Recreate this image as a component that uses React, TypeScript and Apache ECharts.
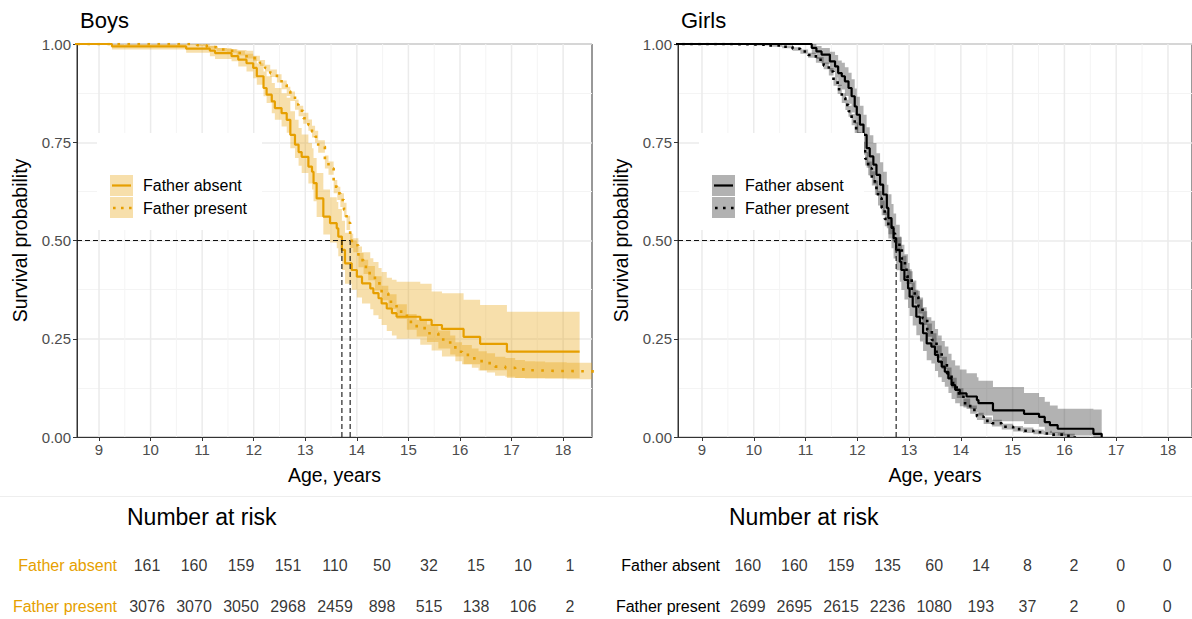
import React, { useEffect, useRef } from "react";
import * as echarts from "echarts";

// ---------- data ----------
const panelTitles = ["Boys", "Girls"];
const rowLabels = ["Father absent", "Father present"];
const ageTicks = [9, 10, 11, 12, 13, 14, 15, 16, 17, 18];
const ageMinor = [9.5, 10.5, 11.5, 12.5, 13.5, 14.5, 15.5, 16.5, 17.5];
const riskAges = [9, 10, 11, 12, 13, 14, 15, 16, 17, 18];

const boysAbsentRisk = [161, 160, 159, 151, 110, 50, 32, 15, 10, 1];
const boysPresentRisk = [3076, 3070, 3050, 2968, 2459, 898, 515, 138, 106, 2];
const girlsAbsentRisk = [160, 160, 159, 135, 60, 14, 8, 2, 0, 0];
const girlsPresentRisk = [2699, 2695, 2615, 2236, 1080, 193, 37, 2, 0, 0];

const boysMedians = [13.71, 13.87];
const girlsMedians = [12.75];

const boysAbsentTime = [8, 9.25, 10.69, 11.15, 11.25, 11.57, 11.7, 11.86, 11.99, 12.06, 12.19, 12.25, 12.35, 12.41, 12.54, 12.64, 12.71, 12.8, 12.87, 12.93, 13.06, 13.13, 13.16, 13.22, 13.35, 13.48, 13.61, 13.64, 13.71, 13.77, 13.9, 14.0, 14.1, 14.26, 14.32, 14.42, 14.48, 14.58, 14.68, 14.77, 15.23, 15.45, 15.65, 16.07, 16.39, 16.91, 18.32];
const boysAbsentSurv = [1, 0.994, 0.988, 0.983, 0.977, 0.969, 0.96, 0.951, 0.939, 0.918, 0.888, 0.871, 0.854, 0.837, 0.824, 0.807, 0.769, 0.744, 0.725, 0.713, 0.688, 0.675, 0.646, 0.607, 0.561, 0.544, 0.531, 0.51, 0.476, 0.442, 0.425, 0.408, 0.391, 0.378, 0.366, 0.353, 0.34, 0.327, 0.315, 0.306, 0.298, 0.285, 0.275, 0.255, 0.237, 0.217, 0.217];
const boysAbsentLower = [1, 0.986, 0.978, 0.969, 0.962, 0.956, 0.943, 0.93, 0.913, 0.896, 0.867, 0.85, 0.824, 0.807, 0.79, 0.774, 0.735, 0.71, 0.69, 0.672, 0.645, 0.63, 0.6, 0.56, 0.515, 0.495, 0.48, 0.46, 0.425, 0.39, 0.375, 0.355, 0.34, 0.325, 0.31, 0.3, 0.285, 0.27, 0.258, 0.25, 0.235, 0.22, 0.205, 0.185, 0.17, 0.15, 0.15];
const boysAbsentUpper = [1, 1, 1, 0.996, 0.99, 0.986, 0.985, 0.983, 0.969, 0.951, 0.93, 0.918, 0.901, 0.888, 0.875, 0.863, 0.829, 0.807, 0.786, 0.77, 0.748, 0.735, 0.71, 0.672, 0.63, 0.61, 0.598, 0.58, 0.55, 0.52, 0.5, 0.485, 0.47, 0.455, 0.445, 0.43, 0.42, 0.405, 0.4, 0.395, 0.39, 0.37, 0.366, 0.349, 0.336, 0.319, 0.319];

const boysPresentTime = [8, 10.9, 11.09, 11.28, 11.48, 11.67, 11.83, 11.99, 12.12, 12.22, 12.32, 12.45, 12.54, 12.64, 12.71, 12.8, 12.87, 12.96, 13.06, 13.13, 13.19, 13.25, 13.38, 13.45, 13.55, 13.62, 13.68, 13.75, 13.8, 13.87, 13.93, 14.03, 14.13, 14.22, 14.35, 14.48, 14.61, 14.77, 14.97, 15.16, 15.36, 15.58, 15.81, 15.91, 16.04, 16.23, 16.36, 16.52, 16.68, 16.88, 17.07, 17.26, 17.46, 17.65, 17.85, 18.07, 18.6];
const boysPresentSurv = [1, 0.997, 0.992, 0.986, 0.983, 0.977, 0.969, 0.964, 0.952, 0.939, 0.926, 0.913, 0.896, 0.88, 0.867, 0.846, 0.83, 0.811, 0.794, 0.777, 0.764, 0.739, 0.7, 0.684, 0.637, 0.62, 0.603, 0.578, 0.545, 0.499, 0.488, 0.45, 0.433, 0.417, 0.391, 0.366, 0.344, 0.319, 0.293, 0.277, 0.264, 0.248, 0.234, 0.217, 0.209, 0.2, 0.193, 0.188, 0.179, 0.176, 0.172, 0.17, 0.169, 0.168, 0.168, 0.167, 0.167];
const boysPresentLower = [1, 0.995, 0.988, 0.981, 0.978, 0.971, 0.963, 0.957, 0.944, 0.93, 0.916, 0.902, 0.885, 0.868, 0.855, 0.833, 0.816, 0.797, 0.779, 0.762, 0.749, 0.723, 0.683, 0.667, 0.62, 0.603, 0.585, 0.56, 0.527, 0.481, 0.47, 0.432, 0.415, 0.399, 0.373, 0.348, 0.325, 0.3, 0.273, 0.256, 0.242, 0.225, 0.21, 0.193, 0.185, 0.176, 0.169, 0.164, 0.156, 0.153, 0.15, 0.149, 0.149, 0.148, 0.148, 0.147, 0.147];
const boysPresentUpper = [1, 0.999, 0.995, 0.99, 0.987, 0.982, 0.975, 0.97, 0.959, 0.947, 0.935, 0.923, 0.907, 0.891, 0.879, 0.859, 0.843, 0.825, 0.808, 0.792, 0.779, 0.755, 0.716, 0.701, 0.654, 0.637, 0.62, 0.596, 0.563, 0.517, 0.506, 0.468, 0.451, 0.435, 0.409, 0.385, 0.363, 0.338, 0.313, 0.298, 0.286, 0.271, 0.258, 0.241, 0.234, 0.225, 0.218, 0.213, 0.204, 0.201, 0.196, 0.193, 0.192, 0.19, 0.19, 0.189, 0.189];

const girlsAbsentTime = [8, 11.12, 11.21, 11.31, 11.47, 11.57, 11.63, 11.7, 11.76, 11.83, 11.89, 11.95, 11.99, 12.05, 12.12, 12.18, 12.24, 12.31, 12.37, 12.44, 12.5, 12.57, 12.6, 12.66, 12.7, 12.75, 12.82, 12.85, 12.91, 12.98, 13.01, 13.07, 13.14, 13.21, 13.27, 13.34, 13.43, 13.5, 13.56, 13.63, 13.69, 13.76, 13.82, 13.89, 13.98, 14.11, 14.31, 14.34, 14.62, 15.22, 15.51, 15.62, 15.72, 15.87, 16.56, 16.72];
const girlsAbsentSurv = [1, 0.99, 0.981, 0.973, 0.956, 0.943, 0.926, 0.918, 0.905, 0.888, 0.867, 0.841, 0.82, 0.795, 0.769, 0.735, 0.714, 0.693, 0.667, 0.642, 0.617, 0.583, 0.557, 0.532, 0.506, 0.476, 0.446, 0.425, 0.4, 0.378, 0.357, 0.332, 0.306, 0.289, 0.264, 0.238, 0.23, 0.209, 0.192, 0.179, 0.166, 0.149, 0.132, 0.12, 0.111, 0.103, 0.094, 0.086, 0.068, 0.059, 0.051, 0.038, 0.03, 0.021, 0.008, 0];
const girlsAbsentLower = [1, 0.975, 0.962, 0.95, 0.93, 0.915, 0.893, 0.884, 0.868, 0.848, 0.826, 0.797, 0.775, 0.748, 0.722, 0.685, 0.664, 0.643, 0.616, 0.59, 0.565, 0.531, 0.505, 0.48, 0.454, 0.424, 0.395, 0.374, 0.35, 0.328, 0.308, 0.284, 0.259, 0.243, 0.219, 0.195, 0.187, 0.168, 0.152, 0.14, 0.128, 0.112, 0.097, 0.086, 0.078, 0.071, 0.063, 0.055, 0.04, 0.033, 0.026, 0.016, 0.01, 0.004, 0, 0];
const girlsAbsentUpper = [1, 1, 0.995, 0.99, 0.98, 0.972, 0.958, 0.952, 0.941, 0.927, 0.91, 0.887, 0.866, 0.843, 0.82, 0.788, 0.768, 0.748, 0.722, 0.699, 0.675, 0.642, 0.618, 0.593, 0.569, 0.54, 0.51, 0.489, 0.465, 0.443, 0.422, 0.398, 0.372, 0.355, 0.33, 0.305, 0.296, 0.275, 0.258, 0.244, 0.23, 0.212, 0.195, 0.182, 0.172, 0.162, 0.152, 0.143, 0.127, 0.112, 0.102, 0.09, 0.08, 0.072, 0.07, 0];

const girlsPresentTime = [8, 9.5, 10.0, 10.3, 10.55, 10.75, 10.9, 11.05, 11.2, 11.35, 11.45, 11.54, 11.62, 11.7, 11.77, 11.83, 11.89, 11.95, 12.02, 12.08, 12.15, 12.21, 12.28, 12.34, 12.4, 12.47, 12.53, 12.6, 12.68, 12.73, 12.86, 12.95, 13.05, 13.11, 13.18, 13.26, 13.35, 13.44, 13.53, 13.63, 13.73, 13.82, 13.92, 14.05, 14.18, 14.31, 14.44, 14.6, 14.79, 15.01, 15.2, 15.4, 15.6, 15.76, 16.0, 16.2];
const girlsPresentSurv = [1, 0.999, 0.998, 0.996, 0.993, 0.988, 0.981, 0.972, 0.96, 0.945, 0.93, 0.905, 0.885, 0.863, 0.845, 0.829, 0.808, 0.786, 0.76, 0.735, 0.708, 0.684, 0.658, 0.634, 0.608, 0.583, 0.555, 0.535, 0.518, 0.489, 0.442, 0.408, 0.374, 0.357, 0.332, 0.302, 0.272, 0.247, 0.217, 0.188, 0.162, 0.137, 0.111, 0.086, 0.069, 0.052, 0.041, 0.035, 0.026, 0.02, 0.016, 0.012, 0.009, 0.006, 0.003, 0];
const girlsPresentLower = [1, 0.998, 0.996, 0.993, 0.989, 0.983, 0.975, 0.965, 0.952, 0.936, 0.92, 0.894, 0.873, 0.85, 0.832, 0.815, 0.793, 0.771, 0.744, 0.718, 0.691, 0.666, 0.64, 0.616, 0.589, 0.564, 0.536, 0.516, 0.499, 0.47, 0.423, 0.389, 0.356, 0.339, 0.314, 0.285, 0.255, 0.231, 0.201, 0.173, 0.148, 0.124, 0.099, 0.075, 0.059, 0.043, 0.033, 0.027, 0.019, 0.014, 0.01, 0.007, 0.005, 0.002, 0, 0];
const girlsPresentUpper = [1, 1, 0.999, 0.998, 0.996, 0.992, 0.986, 0.978, 0.967, 0.953, 0.939, 0.915, 0.896, 0.875, 0.858, 0.843, 0.822, 0.801, 0.776, 0.751, 0.725, 0.701, 0.676, 0.652, 0.626, 0.602, 0.574, 0.554, 0.537, 0.508, 0.461, 0.427, 0.393, 0.375, 0.35, 0.32, 0.289, 0.264, 0.233, 0.204, 0.177, 0.151, 0.124, 0.098, 0.08, 0.062, 0.05, 0.044, 0.034, 0.028, 0.024, 0.019, 0.016, 0.012, 0.008, 0];

// ---------- style / layout ----------
const FONT = "'Liberation Sans', Arial, Helvetica, sans-serif";
const ORANGE = "#E69F00";
const ORANGE_FILL = "rgba(230,159,0,0.33)";
const GREY_FILL = "rgba(0,0,0,0.3)";
const BOYS_X = [8.573, 18.56];
const GIRLS_X = [8.537, 18.464];
const RISK_X = [8.532, 18.532];

function stepData(t: number[], s: number[]) {
  return t.map((x, i) => [x, s[i]]);
}

function bandSeries(idx: number, t: number[], lo: number[], hi: number[], fill: string) {
  return {
    type: "custom",
    xAxisIndex: idx,
    yAxisIndex: idx,
    silent: true,
    clip: true,
    z: 2,
    data: [[12, 0.5]],
    renderItem: (_p: any, api: any) => {
      const up: number[][] = [];
      const dn: number[][] = [];
      for (let i = 0; i < t.length - 1; i++) {
        up.push(api.coord([t[i], hi[i]]), api.coord([t[i + 1], hi[i]]));
        dn.push(api.coord([t[i], lo[i]]), api.coord([t[i + 1], lo[i]]));
      }
      return {
        type: "polygon",
        shape: { points: up.concat(dn.reverse()) },
        style: { fill, stroke: null },
      };
    },
  };
}

function gridLines(idx: number, values: number[], color: string, width: number) {
  return {
    type: "custom",
    xAxisIndex: idx,
    yAxisIndex: idx,
    silent: true,
    clip: true,
    z: 1,
    data: values.map((v) => [v, 0.5]),
    renderItem: (_p: any, api: any) => {
      const x = api.value(0);
      const a = api.coord([x, 0]);
      const b = api.coord([x, 1]);
      return {
        type: "line",
        shape: { x1: a[0], y1: a[1], x2: b[0], y2: b[1] },
        style: { stroke: color, lineWidth: width },
      };
    },
  };
}

function stepLine(idx: number, t: number[], s: number[], color: string, dotted: boolean, dash: number[]) {
  return {
    type: "line",
    xAxisIndex: idx,
    yAxisIndex: idx,
    data: stepData(t, s),
    step: "end",
    symbol: "none",
    silent: true,
    clip: true,
    z: 3,
    lineStyle: dotted
      ? { color, width: 2.6, type: dash, cap: "butt" }
      : { color, width: 2.2, type: "solid" },
  };
}

function dashed(idx: number, pts: number[][]) {
  return {
    type: "line",
    xAxisIndex: idx,
    yAxisIndex: idx,
    data: pts,
    symbol: "none",
    silent: true,
    clip: true,
    z: 4,
    lineStyle: { color: "#111", width: 1.1, type: [5, 3] },
  };
}

function panelX(idx: number, range: number[]) {
  return {
    gridIndex: idx,
    type: "value",
    min: range[0],
    max: range[1],
    axisLine: { show: true, lineStyle: { color: "#333", width: 1 } },
    axisTick: { show: true, customValues: ageTicks, length: 4, lineStyle: { color: "#333" } },
    axisLabel: { customValues: ageTicks, color: "#4D4D4D", fontSize: 15, margin: 5, fontFamily: FONT },
    splitLine: { show: false },
  };
}

function panelY(idx: number) {
  return {
    gridIndex: idx,
    type: "value",
    min: 0,
    max: 1,
    interval: 0.25,
    axisLine: { show: true, lineStyle: { color: "#333", width: 1 } },
    axisTick: { show: true, length: 4, lineStyle: { color: "#333" } },
    axisLabel: {
      color: "#4D4D4D",
      fontSize: 15,
      margin: 6,
      fontFamily: FONT,
      formatter: (v: number) => v.toFixed(2),
    },
    splitLine: { show: true, lineStyle: { color: "#EBEBEB", width: 1.5 } },
    minorTick: { show: false, splitNumber: 2 },
    minorSplitLine: { show: true, lineStyle: { color: "#F4F4F4", width: 1 } },
  };
}

function riskY(idx: number, color: string, margin: number) {
  return {
    gridIndex: idx,
    type: "category",
    data: rowLabels,
    inverse: true,
    boundaryGap: false,
    axisLine: { show: false },
    axisTick: { show: false },
    splitLine: { show: false },
    axisLabel: { color, fontSize: 16, margin, fontFamily: FONT },
  };
}

function riskSeries(idx: number, row: number, values: number[]) {
  return {
    type: "scatter",
    xAxisIndex: idx,
    yAxisIndex: idx,
    symbolSize: 1,
    silent: true,
    itemStyle: { color: "rgba(0,0,0,0)" },
    label: {
      show: true,
      position: "inside",
      color: "#000",
      fontSize: 16,
      fontFamily: FONT,
      formatter: (p: any) => String(p.value[2]),
    },
    data: riskAges.map((a, i) => [a, row, values[i]]),
  };
}

function text(x: number, y: number, t: string, size: number, extra: any = {}) {
  return {
    type: "text",
    x,
    y,
    z: 60,
    ...extra,
    style: {
      text: t,
      fontSize: size,
      fontFamily: FONT,
      fill: extra.fill || "#000",
      align: extra.align || "left",
      verticalAlign: "middle",
    },
  };
}

function legend(x0: number, lineColor: string, fill: string) {
  return [
    { type: "rect", z: 50, shape: { x: x0 - 13, y: 133, width: 165, height: 97 }, style: { fill: "#fff" } },
    { type: "rect", z: 51, shape: { x: x0, y: 175, width: 23, height: 21 }, style: { fill } },
    { type: "rect", z: 51, shape: { x: x0, y: 197, width: 23, height: 21 }, style: { fill } },
    { type: "line", z: 52, shape: { x1: x0 + 2, y1: 185.5, x2: x0 + 21, y2: 185.5 }, style: { stroke: lineColor, lineWidth: 2.2 } },
    { type: "line", z: 52, shape: { x1: x0 + 3, y1: 208, x2: x0 + 23, y2: 208 }, style: { stroke: lineColor, lineWidth: 2.6, lineDash: [2.6, 5.4] } },
    text(x0 + 33, 185.5, rowLabels[0], 16, { z: 52 }),
    text(x0 + 33, 208, rowLabels[1], 16, { z: 52 }),
  ];
}

const option: any = {
  animation: false,
  backgroundColor: "#fff",
  textStyle: { fontFamily: FONT },
  grid: [
    { left: 77, top: 44, width: 515, height: 393, show: true, borderColor: "#333", borderWidth: 1, backgroundColor: "transparent" },
    { left: 678, top: 44, width: 514, height: 393, show: true, borderColor: "#333", borderWidth: 1, backgroundColor: "transparent" },
    { left: 125, top: 565.5, width: 470, height: 40.5 },
    { left: 726, top: 565.5, width: 470, height: 40.5 },
  ],
  xAxis: [
    panelX(0, BOYS_X),
    panelX(1, GIRLS_X),
    { gridIndex: 2, type: "value", min: RISK_X[0], max: RISK_X[1], show: false },
    { gridIndex: 3, type: "value", min: RISK_X[0], max: RISK_X[1], show: false },
  ],
  yAxis: [panelY(0), panelY(1), riskY(2, ORANGE, 8), riskY(3, "#000", 6)],
  series: [
    gridLines(0, ageMinor, "#F4F4F4", 1),
    gridLines(0, ageTicks, "#EBEBEB", 1.5),
    gridLines(1, ageMinor, "#F4F4F4", 1),
    gridLines(1, ageTicks, "#EBEBEB", 1.5),
    bandSeries(0, boysAbsentTime, boysAbsentLower, boysAbsentUpper, ORANGE_FILL),
    bandSeries(0, boysPresentTime, boysPresentLower, boysPresentUpper, ORANGE_FILL),
    bandSeries(1, girlsAbsentTime, girlsAbsentLower, girlsAbsentUpper, GREY_FILL),
    bandSeries(1, girlsPresentTime, girlsPresentLower, girlsPresentUpper, GREY_FILL),
    stepLine(0, boysAbsentTime, boysAbsentSurv, ORANGE, false, []),
    stepLine(0, boysPresentTime, boysPresentSurv, ORANGE, true, [2.6, 7.4]),
    stepLine(1, girlsAbsentTime, girlsAbsentSurv, "#000", false, []),
    stepLine(1, girlsPresentTime, girlsPresentSurv, "#000", true, [2.6, 5.4]),
    dashed(0, [[BOYS_X[0], 0.5], [boysMedians[1], 0.5]]),
    dashed(0, [[boysMedians[0], 0], [boysMedians[0], 0.5]]),
    dashed(0, [[boysMedians[1], 0], [boysMedians[1], 0.5]]),
    dashed(1, [[GIRLS_X[0], 0.5], [girlsMedians[0], 0.5]]),
    dashed(1, [[girlsMedians[0], 0], [girlsMedians[0], 0.5]]),
    riskSeries(2, 0, boysAbsentRisk),
    riskSeries(2, 1, boysPresentRisk),
    riskSeries(3, 0, girlsAbsentRisk),
    riskSeries(3, 1, girlsPresentRisk),
  ],
  graphic: [
    { type: "line", z: 5, shape: { x1: 0, y1: 496.5, x2: 1192, y2: 496.5 }, style: { stroke: "#EEEEEE", lineWidth: 1 } },
    text(80, 20, panelTitles[0], 22),
    text(681, 20, panelTitles[1], 22),
    text(20, 240.5, "Survival probability", 19.5, { rotation: Math.PI / 2, align: "center" }),
    text(621, 240.5, "Survival probability", 19.5, { rotation: Math.PI / 2, align: "center" }),
    text(334.5, 475, "Age, years", 19.5, { align: "center" }),
    text(935, 475, "Age, years", 19.5, { align: "center" }),
    text(127, 517, "Number at risk", 23),
    text(729, 517, "Number at risk", 23),
    ...legend(110, ORANGE, ORANGE_FILL),
    ...legend(712, "#000", GREY_FILL),
  ],
};

export default function App() {
  const ref = useRef<HTMLDivElement>(null);
  useEffect(() => {
    if (!ref.current) return;
    const chart = echarts.init(ref.current, null, { renderer: "svg" });
    chart.setOption(option);
    return () => chart.dispose();
  }, []);
  return (
    <div
      ref={ref}
      style={{ position: "absolute", left: 0, top: 0, width: 1192, height: 619, background: "#fff" }}
    />
  );
}
